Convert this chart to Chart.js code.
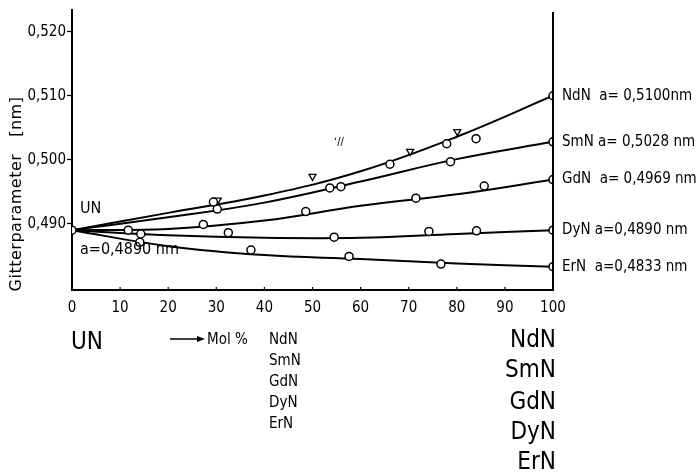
<!DOCTYPE html>
<html>
<head>
<meta charset="utf-8">
<script src="https://cdn.jsdelivr.net/npm/chart.js@4.4.1/dist/chart.umd.min.js"></script>
<style>
  html, body { margin: 0; padding: 0; background: #fff; }
  #wrap { width: 698px; height: 473px; }
</style>
</head>
<body>
<div id="wrap"><canvas id="myChart" width="698" height="473"></canvas></div>
<script>
const FONT = '"DejaVu Sans Condensed", "Liberation Sans Narrow", "DejaVu Sans", sans-serif';
const WIDE = '"DejaVu Sans", sans-serif';

const COMPOUNDS = ['NdN', 'SmN', 'GdN', 'DyN', 'ErN'];
const END_LABELS = ['NdN  a= 0,5100nm', 'SmN a= 0,5028 nm', 'GdN  a= 0,4969 nm', 'DyN a=0,4890 nm', 'ErN  a=0,4833 nm'];
const Y_TICKS = [0.490, 0.500, 0.510, 0.520];

// fitted curves at these mol % positions
const CURVE_X = [0, 20, 40, 60, 80, 100];
const NDN_CURVE = [0.4890, 0.4917, 0.4944, 0.4982, 0.5036, 0.5100];
const SMN_CURVE = [0.4890, 0.4910, 0.4933, 0.4966, 0.5001, 0.5028];
const GDN_CURVE = [0.4890, 0.4892, 0.4905, 0.4928, 0.4946, 0.4969];
const DYN_CURVE = [0.4890, 0.4882, 0.4878, 0.4878, 0.4884, 0.4890];
const ERN_CURVE = [0.4890, 0.4865, 0.4851, 0.4845, 0.4838, 0.4833];

// measured points (circles)
const UN_X = [0];
const UN_Y = [0.4890];
const NDN_X = [29.4, 66.1, 77.9, 84.0, 100];
const NDN_Y = [0.4934, 0.4993, 0.5025, 0.5033, 0.5100];
const SMN_X = [30.2, 53.6, 55.9, 78.7, 100];
const SMN_Y = [0.4923, 0.4956, 0.4958, 0.4997, 0.5028];
const GDN_X = [11.7, 27.3, 48.6, 71.5, 85.7, 100];
const GDN_Y = [0.4890, 0.4899, 0.4919, 0.4940, 0.4959, 0.4969];
const DYN_X = [14.3, 32.5, 54.5, 74.2, 84.1, 100];
const DYN_Y = [0.4884, 0.4886, 0.4879, 0.4888, 0.4889, 0.4890];
const ERN_X = [14.1, 37.2, 57.6, 76.7, 100];
const ERN_Y = [0.4871, 0.4859, 0.4849, 0.4837, 0.4833];

// second NdN series (triangles)
const TRI_X = [30.3, 50.0, 70.3, 80.1];
const TRI_Y = [0.4937, 0.4974, 0.5013, 0.5044];

const pairs = (xs, ys) => xs.map((v, i) => ({ x: v, y: ys[i] }));

const curve = (ys) => ({
  type: 'line',
  data: pairs(CURVE_X, ys),
  borderColor: '#000',
  borderWidth: 2,
  pointRadius: 0,
  tension: 0.4,
  order: 2,
});

const circles = (xs, ys) => ({
  type: 'line',
  data: pairs(xs, ys),
  showLine: false,
  pointStyle: 'circle',
  pointRadius: 4,
  pointBorderWidth: 1.5,
  pointBorderColor: '#000',
  pointBackgroundColor: '#fff',
  order: 1,
});

const annotate = {
  id: 'annotate',
  afterDraw(chart) {
    const { ctx, chartArea, scales: { x, y } } = chart;
    ctx.save();
    ctx.fillStyle = '#000';
    ctx.strokeStyle = '#000';

    // right-hand vertical line at 100 %
    const xr = x.getPixelForValue(100);
    ctx.lineWidth = 2;
    ctx.beginPath();
    ctx.moveTo(xr, chartArea.top + 2);
    ctx.lineTo(xr, chartArea.bottom);
    ctx.stroke();

    // tick marks pointing up into the plot
    ctx.lineWidth = 1.2;
    for (let v = 10; v < 100; v += 10) {
      const px = x.getPixelForValue(v);
      ctx.beginPath();
      ctx.moveTo(px, chartArea.bottom);
      ctx.lineTo(px, chartArea.bottom - 3);
      ctx.stroke();
    }

    // y axis title
    ctx.save();
    ctx.translate(17, 194);
    ctx.rotate(-Math.PI / 2);
    ctx.font = `16px ${WIDE}`;
    ctx.letterSpacing = '0.5px';
    ctx.textAlign = 'center';
    ctx.textBaseline = 'middle';
    ctx.fillText('Gitterparameter   [nm]', 0, 0);
    ctx.restore();

    ctx.textBaseline = 'middle';
    ctx.textAlign = 'left';
    ctx.font = `16px ${FONT}`;
    const y0 = y.getPixelForValue(UN_Y[0]);
    ctx.fillText('UN', 80, y0 - 21);
    ctx.fillText('a=0,4890 nm', 80, y0 + 20);

    // right-hand labels
    ctx.font = `15px ${FONT}`;
    const ends = [NDN_CURVE, SMN_CURVE, GDN_CURVE, DYN_CURVE, ERN_CURVE];
    ends.forEach((c, i) => {
      const py = y.getPixelForValue(c[c.length - 1]);
      ctx.fillText(END_LABELS[i], xr + 9, py);
    });

    // small artefact mark in the scan
    ctx.font = `11px ${FONT}`;
    ctx.fillText('ʻ//', 334, 142);

    // bottom legend
    ctx.font = `24px ${FONT}`;
    ctx.fillText('UN', 71, 343);
    ctx.textAlign = 'right';
    const bigY = [341, 371, 403, 433, 463];
    COMPOUNDS.forEach((c, i) => ctx.fillText(c, 556, bigY[i]));

    ctx.textAlign = 'left';
    ctx.font = `15px ${FONT}`;
    ctx.fillText('Mol %', 207, 340);
    const smallY = [340, 361, 382, 403, 424];
    COMPOUNDS.forEach((c, i) => ctx.fillText(c, 269, smallY[i]));

    // arrow
    ctx.lineWidth = 1.5;
    ctx.beginPath();
    ctx.moveTo(170, 339);
    ctx.lineTo(199, 339);
    ctx.stroke();
    ctx.beginPath();
    ctx.moveTo(205, 339);
    ctx.lineTo(197, 336);
    ctx.lineTo(197, 342);
    ctx.closePath();
    ctx.fill();

    ctx.restore();
  },
};

const ctx = document.getElementById('myChart');

const myChart = new Chart(ctx, {
  data: {
    datasets: [
      circles(UN_X, UN_Y),
      circles(NDN_X, NDN_Y),
      circles(SMN_X, SMN_Y),
      circles(GDN_X, GDN_Y),
      circles(DYN_X, DYN_Y),
      circles(ERN_X, ERN_Y),
      {
        type: 'line',
        data: pairs(TRI_X, TRI_Y),
        showLine: false,
        pointStyle: 'triangle',
        rotation: 180,
        pointRadius: 4,
        pointBorderWidth: 1.3,
        pointBorderColor: '#000',
        pointBackgroundColor: '#fff',
        order: 1,
      },
      curve(NDN_CURVE),
      curve(SMN_CURVE),
      curve(GDN_CURVE),
      curve(DYN_CURVE),
      curve(ERN_CURVE),
    ],
  },
  options: {
    responsive: false,
    animation: false,
    devicePixelRatio: 1,
    layout: { padding: { top: 7, right: 145, left: 0, bottom: 0 } },
    plugins: {
      legend: { display: false },
      tooltip: { enabled: false },
    },
    scales: {
      x: {
        type: 'linear',
        min: 0,
        max: 100,
        afterFit: (s) => { s.height = 183; },
        border: { display: true, color: '#000', width: 2 },
        grid: { display: false, drawTicks: false },
        ticks: {
          stepSize: 10,
          padding: 9,
          color: '#000',
          font: { family: FONT, size: 15 },
        },
      },
      y: {
        type: 'linear',
        min: 0.47965,
        max: 0.5234,
        afterFit: (s) => { s.width = 72; },
        afterBuildTicks: (s) => { s.ticks = Y_TICKS.map((v) => ({ value: v })); },
        border: { display: true, color: '#000', width: 2 },
        grid: { drawOnChartArea: false, drawTicks: true, tickLength: 5, color: '#000', tickWidth: 1.2 },
        ticks: {
          padding: 1,
          color: '#000',
          font: { family: FONT, size: 15 },
          callback: (v) => v.toFixed(3).replace('.', ','),
        },
      },
    },
  },
  plugins: [annotate],
});
</script>
</body>
</html>
